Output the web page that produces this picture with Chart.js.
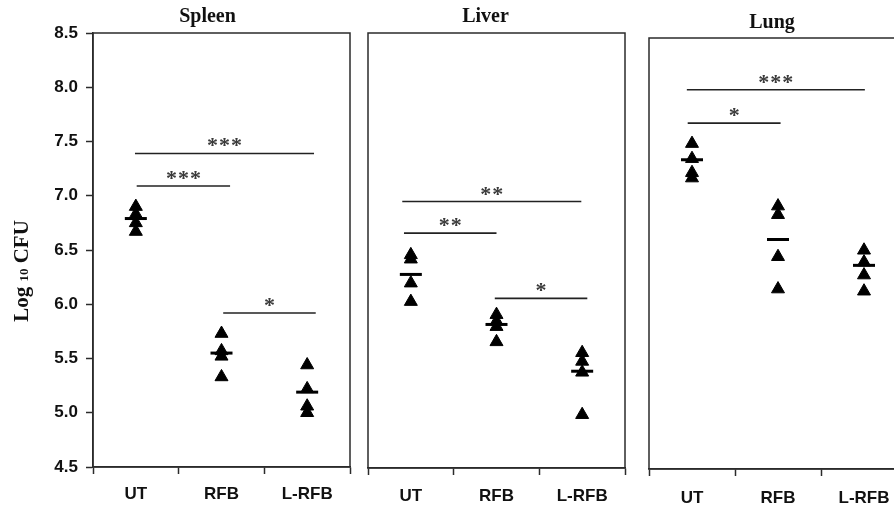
<!DOCTYPE html>
<html>
<head>
<meta charset="utf-8">
<script src="https://cdn.jsdelivr.net/npm/chart.js@4.4.0/dist/chart.umd.min.js"></script>
<style>
    body { margin: 0; width: 894px; height: 506px; overflow: hidden; background: #fff; position: relative; }
    .panel { position: absolute; top: 0; height: 506px; }
</style>
</head>
<body>
<div class="panel" style="left:0px;width:352px"><canvas id="spleenChart"></canvas></div>
<div class="panel" style="left:360px;width:267px"><canvas id="liverChart"></canvas></div>
<div class="panel" style="left:640px;width:270px"><canvas id="lungChart"></canvas></div>
<script>
// groups on the x axis, y tick labels
var groups = ['UT', 'RFB', 'L-RFB'];
var yTicks = [4.5, 5.0, 5.5, 6.0, 6.5, 7.0, 7.5, 8.0, 8.5];
var yTitle = ['Log', '10', 'CFU'];

// Spleen (log10 CFU per mouse)
var spleenUT = [6.90, 6.83, 6.75, 6.67];
var spleenRFB = [5.73, 5.57, 5.52, 5.33];
var spleenLRFB = [5.44, 5.22, 5.06, 5.00];
var spleenMeans = [6.79, 5.55, 5.19];
var spleenSigStart = [-0.01, 0.01, 1.02];
var spleenSigEnd = [2.08, 1.10, 2.10];
var spleenSigLevel = [7.39, 7.09, 5.92];
var spleenSigStars = ['***', '***', '*'];

// Liver
var liverUT = [6.46, 6.42, 6.20, 6.03];
var liverRFB = [5.91, 5.85, 5.80, 5.66];
var liverLRFB = [5.56, 5.48, 5.38, 4.99];
var liverMeans = [6.28, 5.82, 5.39];
var liverSigStart = [-0.10, -0.08, 0.98];
var liverSigEnd = [1.99, 1.00, 2.06];
var liverSigLevel = [6.95, 6.66, 6.06];
var liverSigStars = ['**', '**', '*'];

// Lung
var lungUT = [7.52, 7.38, 7.25, 7.20];
var lungRFB = [6.94, 6.86, 6.47, 6.17];
var lungLRFB = [6.53, 6.42, 6.30, 6.15];
var lungMeans = [7.37, 6.63, 6.39];
var lungSigStart = [-0.06, -0.05];
var lungSigEnd = [2.01, 1.03];
var lungSigLevel = [8.02, 7.71];
var lungSigStars = ['***', '*'];

var boxPlugin = {
    id: 'box',
    beforeDatasetsDraw: function (chart) {
        var a = chart.chartArea;
        var ctx = chart.ctx;
        ctx.save();
        ctx.strokeStyle = '#2b2b2b';
        ctx.lineWidth = 1.5;
        ctx.strokeRect(a.left, a.top, a.right - a.left, a.bottom - a.top);
        ctx.restore();
    }
};

var textPlugin = {
    id: 'panelText',
    afterDraw: function (chart, args, opts) {
        var ctx = chart.ctx;
        var a = chart.chartArea;
        var xs = chart.scales.x, ys = chart.scales.y;
        ctx.save();
        // panel title
        ctx.fillStyle = '#111';
        ctx.font = 'bold 20px "Liberation Serif"';
        ctx.textAlign = 'center';
        ctx.textBaseline = 'alphabetic';
        ctx.fillText(opts.title, (a.left + a.right) / 2 + opts.titleDx, a.top + opts.titleDy);

        // significance stars
        ctx.fillStyle = '#3a3a3a';
        ctx.font = 'bold 22px "Liberation Serif"';
        for (var i = 0; i < opts.sigStars.length; i++) {
            var mid = (xs.getPixelForValue(opts.sigStart[i]) + xs.getPixelForValue(opts.sigEnd[i])) / 2;
            var yy = ys.getPixelForValue(opts.sigLevel[i]) - 1;
            var n = opts.sigStars[i].length;
            for (var k = 0; k < n; k++) {
                ctx.fillText('*', mid + (k - (n - 1) / 2) * 12, yy);
            }
        }

        // y axis title (first panel only)
        if (opts.yTitle) {
            ctx.translate(28, 271);
            ctx.rotate(-Math.PI / 2);
            ctx.textAlign = 'left';
            ctx.fillStyle = '#111';
            var big = 'bold 21px "Liberation Serif"', small = 'bold 13px "Liberation Serif"';
            ctx.font = big;
            var w1 = ctx.measureText(opts.yTitle[0] + ' ').width;
            var w3 = ctx.measureText(' ' + opts.yTitle[2]).width;
            ctx.font = small;
            var w2 = ctx.measureText(opts.yTitle[1]).width;
            var x0 = -(w1 + w2 + w3) / 2;
            ctx.font = big;
            ctx.fillText(opts.yTitle[0] + ' ', x0, 0);
            ctx.font = small;
            ctx.fillText(opts.yTitle[1], x0 + w1, 0);
            ctx.font = big;
            ctx.fillText(' ' + opts.yTitle[2], x0 + w1 + w2, 0);
        }
        ctx.restore();
    }
};

function makePanel(canvasId, cfg) {
    var points = [];
    for (var g = 0; g < cfg.values.length; g++) {
        for (var j = 0; j < cfg.values[g].length; j++) {
            points.push({ x: g, y: cfg.values[g][j] });
        }
    }
    var meanPoints = cfg.means.map(function (m, g) { return { x: g, y: m }; });

    var datasets = [
        {
            data: meanPoints,
            pointStyle: 'line',
            pointRadius: 11,
            borderWidth: 3,
            borderColor: '#000',
            showLine: false
        },
        {
            data: points,
            pointStyle: 'triangle',
            pointRadius: 7.5,
            backgroundColor: '#000',
            borderColor: '#000',
            borderWidth: 1,
            showLine: false
        }
    ];
    for (var i = 0; i < cfg.sigLevel.length; i++) {
        datasets.push({
            data: [{ x: cfg.sigStart[i], y: cfg.sigLevel[i] }, { x: cfg.sigEnd[i], y: cfg.sigLevel[i] }],
            showLine: true,
            borderColor: '#222',
            borderWidth: 1.6,
            pointRadius: 0
        });
    }

    var ctx = document.getElementById(canvasId).getContext('2d');
    return new Chart(ctx, {
        type: 'scatter',
        data: { datasets: datasets },
        plugins: [boxPlugin, textPlugin],
        options: {
            responsive: true,
            maintainAspectRatio: false,
            animation: false,
            layout: { autoPadding: false, padding: cfg.padding },
            plugins: {
                legend: { display: false },
                tooltip: { enabled: false },
                panelText: {
                    title: cfg.title,
                    titleDx: cfg.titleDx,
                    titleDy: cfg.titleDy,
                    sigStart: cfg.sigStart,
                    sigEnd: cfg.sigEnd,
                    sigLevel: cfg.sigLevel,
                    sigStars: cfg.sigStars,
                    yTitle: cfg.yTitle
                }
            },
            scales: {
                x: {
                    type: 'linear',
                    min: -0.5,
                    max: 2.5,
                    afterBuildTicks: function (scale) {
                        scale.ticks = [-0.5, 0, 0.5, 1, 1.5, 2, 2.5].map(function (v) { return { value: v }; });
                    },
                    afterFit: function (scale) {
                        scale.height = cfg.xHeight;
                        scale.paddingLeft = 0;
                        scale.paddingRight = 0;
                    },
                    ticks: {
                        autoSkip: false,
                        maxRotation: 0,
                        padding: cfg.labelPad,
                        color: '#111',
                        font: { family: 'Liberation Sans', size: 17, weight: 'bold' },
                        callback: function (v) {
                            return Number.isInteger(v) ? groups[v] : '';
                        }
                    },
                    grid: {
                        drawOnChartArea: false,
                        tickLength: 7,
                        tickWidth: 1.5,
                        tickColor: function (c) {
                            return (c.tick && Number.isInteger(c.tick.value)) ? 'rgba(0,0,0,0)' : '#2b2b2b';
                        }
                    },
                    border: { color: '#2b2b2b', width: 1.5 }
                },
                y: {
                    type: 'linear',
                    display: cfg.showY,
                    min: 4.5,
                    max: 8.5,
                    afterBuildTicks: function (scale) {
                        scale.ticks = yTicks.map(function (v) { return { value: v }; });
                    },
                    afterFit: function (scale) { scale.width = cfg.yWidth; },
                    ticks: {
                        padding: 8,
                        color: '#111',
                        font: { family: 'Liberation Sans', size: 17, weight: 'bold' },
                        callback: function (v) { return v.toFixed(1); }
                    },
                    grid: {
                        drawOnChartArea: false,
                        tickLength: 7,
                        tickWidth: 1.5,
                        tickColor: '#2b2b2b'
                    },
                    border: { color: '#2b2b2b', width: 1.5 }
                }
            }
        }
    });
}

makePanel('spleenChart', {
    title: 'Spleen', titleDx: -14, titleDy: -11,
    values: [spleenUT, spleenRFB, spleenLRFB], means: spleenMeans,
    sigStart: spleenSigStart, sigEnd: spleenSigEnd, sigLevel: spleenSigLevel, sigStars: spleenSigStars,
    yTitle: yTitle, showY: true, yWidth: 93, xHeight: 39, labelPad: 10,
    padding: { left: 0, right: 2, top: 33, bottom: 0 }
});

makePanel('liverChart', {
    title: 'Liver', titleDx: -11, titleDy: -11,
    values: [liverUT, liverRFB, liverLRFB], means: liverMeans,
    sigStart: liverSigStart, sigEnd: liverSigEnd, sigLevel: liverSigLevel, sigStars: liverSigStars,
    yTitle: null, showY: false, yWidth: 0, xHeight: 38, labelPad: 11,
    padding: { left: 8, right: 2, top: 33, bottom: 0 }
});

makePanel('lungChart', {
    title: 'Lung', titleDx: -6, titleDy: -10,
    values: [lungUT, lungRFB, lungLRFB], means: lungMeans,
    sigStart: lungSigStart, sigEnd: lungSigEnd, sigLevel: lungSigLevel, sigStars: lungSigStars,
    yTitle: null, showY: false, yWidth: 0, xHeight: 37, labelPad: 12,
    padding: { left: 9, right: 3, top: 38, bottom: 0 }
});
</script>
</body>
</html>
